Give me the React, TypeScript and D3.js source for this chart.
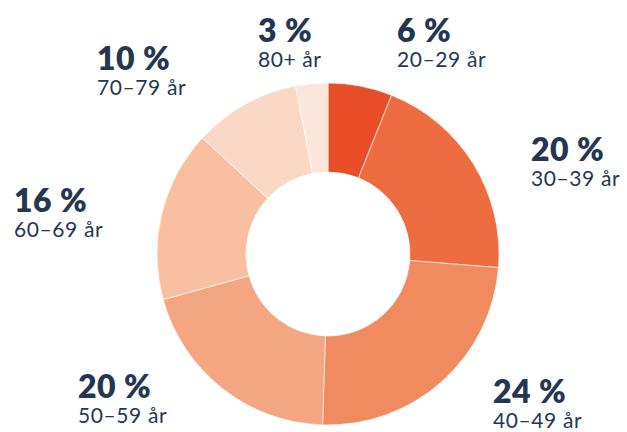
import React from "react";
import * as d3 from "d3";

const categories = ["20–29 år", "30–39 år", "40–49 år", "50–59 år", "60–69 år", "70–79 år", "80+ år"];
const values = [6, 20, 24, 20, 16, 10, 3];
const colors = ["#E84E27", "#ED6C40", "#F08B60", "#F4A582", "#F8BFA1", "#FBD8C5", "#FCE6DC"];
const labelPos: [number, number][] = [
  [397, 42],
  [531, 161],
  [493, 403],
  [78, 398],
  [14, 212],
  [97, 70],
  [258, 42],
];

const W = 627;
const H = 432;
const cx = 328;
const cy = 254;
const rOuter = 171;
const rInner = 82;

export default function App() {
  const pie = d3.pie<number>().sort(null).value((d) => d);
  const arcs = pie(values);
  const arc = d3.arc<d3.PieArcDatum<number>>().innerRadius(rInner).outerRadius(rOuter);
  const text = "#253651";
  return (
    <svg width={W} height={H} style={{ position: "absolute", left: 0, top: 0, background: "#fff" }}>
      <g transform={`translate(${cx},${cy})`}>
        {arcs.map((a, i) => (
          <path key={i} d={arc(a) || ""} fill={colors[i]} stroke="#fff" strokeWidth={0.6} />
        ))}
      </g>
      {categories.map((c, i) => (
        <g key={c} transform={`translate(${labelPos[i][0]},${labelPos[i][1]})`}>
          <text fontFamily="Lato, sans-serif" fontWeight={800} fontSize={32} letterSpacing={0.5} fill={text}>
            {values[i]}{"\u00A0"}%
          </text>
          <text y={25} fontFamily="Lato, sans-serif" fontWeight={400} fontSize={21} letterSpacing={0.6} fill={text}>
            {c}
          </text>
        </g>
      ))}
    </svg>
  );
}
